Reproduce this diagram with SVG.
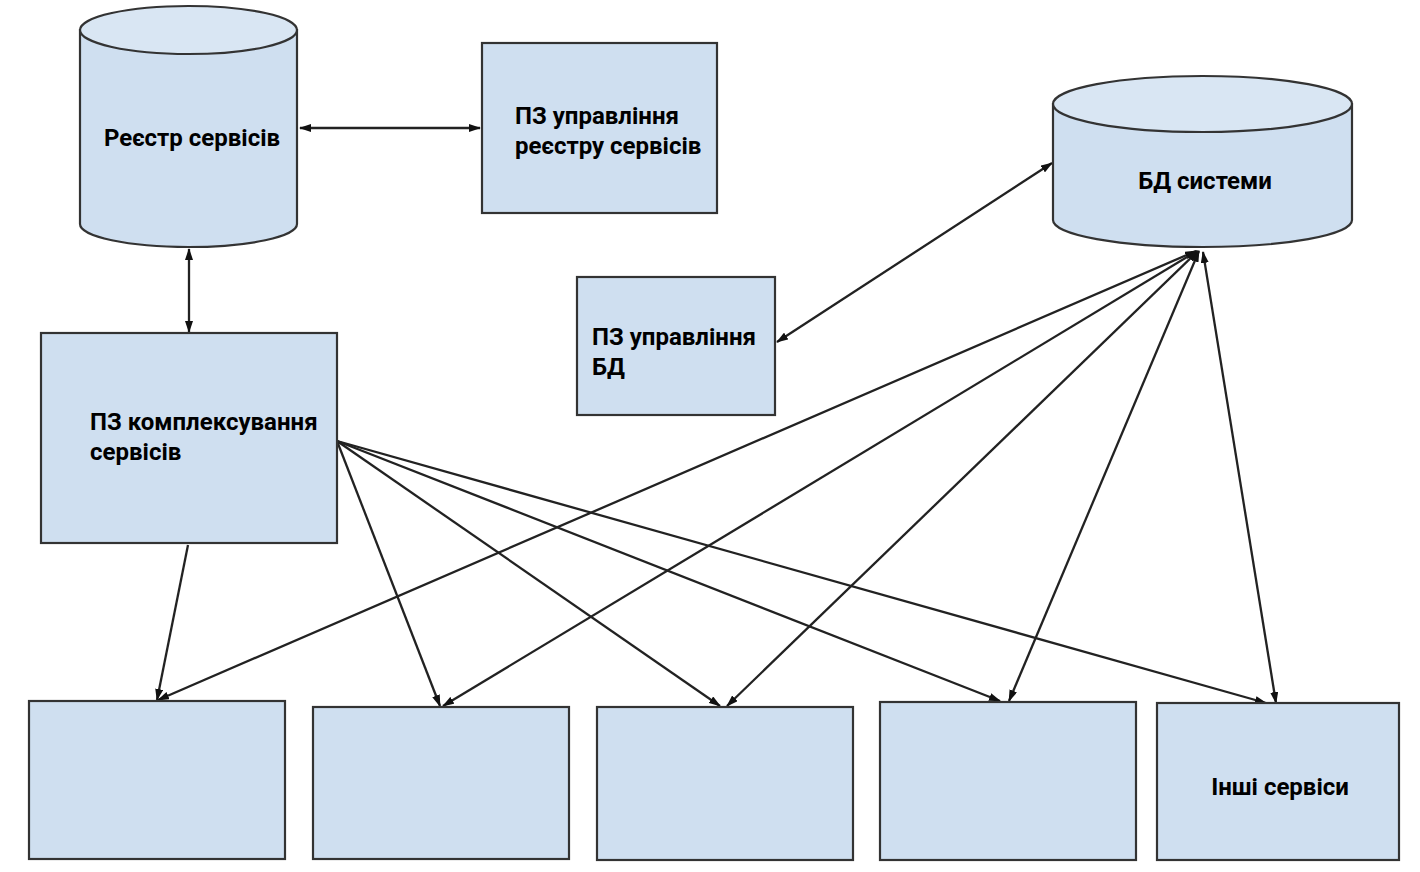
<svg xmlns="http://www.w3.org/2000/svg" width="1420" height="872" viewBox="0 0 1420 872">
<defs>
<style>
.box{fill:#cfdff0;stroke:#333;stroke-width:2.2}
.top{fill:#d9e6f3;stroke:#333;stroke-width:2.2}
.t{font-family:Roboto,"Noto Sans","Liberation Sans",sans-serif;font-weight:700;font-size:24px;fill:#000}
.c{text-anchor:middle}
.ln{stroke:#222;stroke-width:2.3;fill:none}
</style>
<marker id="ah" viewBox="0 0 12 8" refX="11" refY="4" markerWidth="12" markerHeight="8" markerUnits="userSpaceOnUse" orient="auto-start-reverse">
<path d="M0,0 L12,4 L0,8 z" fill="#111"/>
</marker>
</defs>
<rect width="1420" height="872" fill="#fff"/>

<g id="connectors">
<line class="ln" x1="300" y1="128" x2="480" y2="128" marker-start="url(#ah)" marker-end="url(#ah)"/>
<line class="ln" x1="189" y1="249" x2="189" y2="332" marker-start="url(#ah)" marker-end="url(#ah)"/>
<line class="ln" x1="777" y1="342" x2="1052" y2="163" marker-start="url(#ah)" marker-end="url(#ah)"/>
<line class="ln" x1="188" y1="545" x2="157" y2="700" marker-end="url(#ah)"/>
<line class="ln" x1="337" y1="441" x2="440" y2="706" marker-end="url(#ah)"/>
<line class="ln" x1="337" y1="441" x2="720" y2="706" marker-end="url(#ah)"/>
<line class="ln" x1="337" y1="441" x2="1000" y2="701" marker-end="url(#ah)"/>
<line class="ln" x1="337" y1="441" x2="1266" y2="703" marker-end="url(#ah)"/>
<line class="ln" x1="1196" y1="251" x2="158" y2="700" marker-start="url(#ah)" marker-end="url(#ah)"/>
<line class="ln" x1="1197" y1="251" x2="443" y2="706" marker-start="url(#ah)" marker-end="url(#ah)"/>
<line class="ln" x1="1198" y1="251" x2="727" y2="706" marker-start="url(#ah)" marker-end="url(#ah)"/>
<line class="ln" x1="1199" y1="251" x2="1009" y2="701" marker-start="url(#ah)" marker-end="url(#ah)"/>
<line class="ln" x1="1203" y1="252" x2="1276" y2="703" marker-start="url(#ah)" marker-end="url(#ah)"/>
</g>

<g id="registry">
<path class="box" d="M80,30 L80,224 A108.5,23 0 0 0 297,224 L297,30 Z"/>
<ellipse class="top" cx="188.5" cy="30" rx="108.5" ry="24"/>
<text class="t c" x="192" y="146">Реєстр сервісів</text>
</g>

<g id="registry-mgmt">
<rect class="box" x="482" y="43" width="235" height="170"/>
<text class="t" x="515" y="124">ПЗ управління</text>
<text class="t" x="515" y="154">реєстру сервісів</text>
</g>

<g id="db">
<path class="box" d="M1053,104 L1053,220 A149.5,27 0 0 0 1352,220 L1352,104 Z"/>
<ellipse class="top" cx="1202.5" cy="104" rx="149.5" ry="28"/>
<text class="t c" x="1205" y="189">БД системи</text>
</g>

<g id="db-mgmt">
<rect class="box" x="577" y="277" width="198" height="138"/>
<text class="t" x="592" y="345">ПЗ управління</text>
<text class="t" x="592" y="375">БД</text>
</g>

<g id="integration">
<rect class="box" x="41" y="333" width="296" height="210"/>
<text class="t" x="90" y="430">ПЗ комплексування</text>
<text class="t" x="90" y="460">сервісів</text>
</g>

<g id="svc1"><rect class="box" x="29" y="701" width="256" height="158"/></g>
<g id="svc2"><rect class="box" x="313" y="707" width="256" height="152"/></g>
<g id="svc3"><rect class="box" x="597" y="707" width="256" height="153"/></g>
<g id="svc4"><rect class="box" x="880" y="702" width="256" height="158"/></g>
<g id="svc5">
<rect class="box" x="1157" y="703" width="242" height="157"/>
<text class="t c" x="1280" y="795">Інші сервіси</text>
</g>
</svg>
